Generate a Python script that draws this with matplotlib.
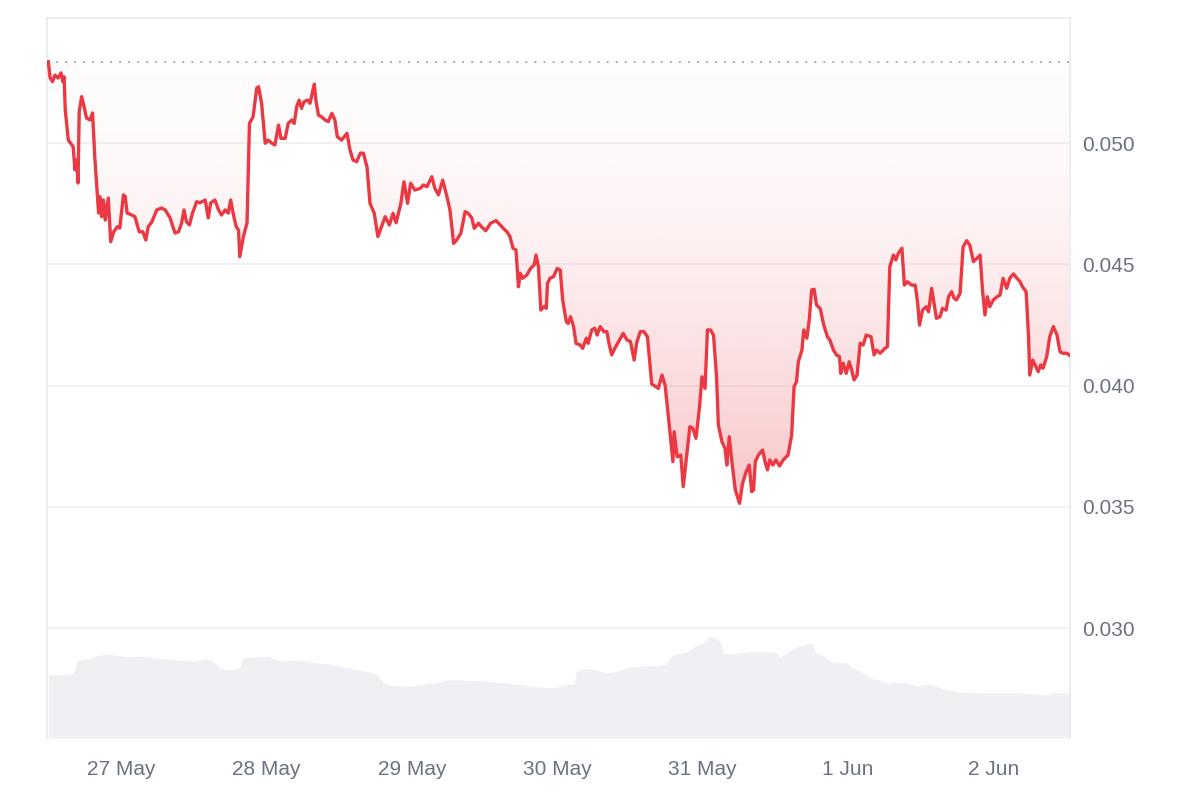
"""Seven-day price chart with volume backdrop, rebuilt from a screenshot."""

import datetime as dt

import matplotlib

matplotlib.use("Agg")

import matplotlib.dates as mdates
import matplotlib.pyplot as plt
import numpy as np
from matplotlib.colors import to_rgb
from matplotlib.ticker import FuncFormatter

plt.rcParams["font.family"] = ["Liberation Sans", "DejaVu Sans"]

START = dt.datetime(2024, 5, 26, 12, 0)

# hours after START, price in USD
PRICE_HOURS = [
    0.0, 0.3, 0.7, 1.1, 1.6, 2.1, 2.4, 2.6, 2.8, 3.3,
    3.9, 4.1, 4.4, 4.7, 4.9, 5.1, 5.5, 5.9, 6.3, 6.9,
    7.3, 7.7, 8.3, 8.5, 8.8, 9.1, 9.4, 9.9, 10.3, 10.8,
    11.4, 11.8, 12.4, 12.7, 13.0, 13.8, 14.3, 15.0, 15.6, 16.1,
    16.5, 17.1, 17.9, 18.7, 19.3, 20.1, 20.9, 21.5, 22.0, 22.4,
    22.8, 23.3, 23.8, 24.5, 25.0, 25.9, 26.4, 26.8, 27.5, 28.1,
    28.6, 29.2, 29.7, 30.1, 30.5, 31.0, 31.4, 31.6, 32.2, 32.8,
    33.2, 33.8, 34.4, 34.7, 35.2, 35.8, 36.3, 36.9, 37.4, 38.0,
    38.4, 39.1, 39.6, 40.2, 40.6, 41.0, 41.4, 41.8, 42.2, 42.8,
    43.2, 43.9, 44.2, 44.6, 45.1, 45.7, 46.2, 46.8, 47.3, 47.7,
    48.4, 49.3, 49.8, 50.3, 50.9, 51.5, 52.0, 52.6, 53.1, 53.8,
    54.4, 55.0, 55.6, 56.3, 56.9, 57.4, 58.2, 58.7, 59.3, 59.8,
    60.5, 61.4, 61.9, 62.5, 63.3, 63.8, 64.4, 65.1, 65.8, 66.3,
    66.9, 67.4, 68.1, 68.8, 69.3, 69.9, 70.3, 71.0, 71.5, 72.2,
    73.0, 73.9, 74.6, 75.1, 75.7, 76.2, 76.7, 77.2, 77.6, 77.9,
    78.3, 79.0, 79.6, 80.2, 80.5, 80.9, 81.3, 81.8, 82.2, 82.4,
    82.8, 83.4, 84.0, 84.5, 84.9, 85.5, 85.8, 86.2, 86.7, 87.1,
    87.8, 88.2, 88.8, 89.1, 89.7, 90.2, 90.6, 91.1, 91.7, 92.2,
    92.6, 93.0, 93.5, 94.3, 94.9, 95.5, 96.1, 96.7, 97.1, 97.7,
    98.3, 98.9, 99.6, 100.3, 100.7, 101.3, 101.8, 102.3, 103.1, 103.3,
    103.8, 104.4, 104.8, 105.4, 105.9, 106.4, 106.9, 107.5, 107.9, 108.4,
    108.8, 109.3, 109.8, 110.3, 110.6, 111.2, 111.7, 112.0, 112.4, 112.8,
    113.4, 114.1, 114.6, 115.2, 115.7, 116.1, 116.4, 116.7, 117.2, 117.9,
    118.3, 118.7, 119.1, 119.6, 120.1, 120.7, 121.3, 122.1, 122.7, 123.1,
    123.5, 123.8, 124.4, 124.7, 125.2, 125.6, 126.0, 126.4, 126.8, 127.4,
    128.0, 128.6, 129.0, 129.6, 130.1, 130.6, 130.8, 131.2, 131.7, 132.2,
    132.6, 133.0, 133.5, 134.0, 134.5, 135.0, 135.8, 136.3, 136.7, 137.3,
    138.1, 138.5, 138.9, 139.5, 139.9, 140.3, 140.9, 141.3, 141.8, 142.5,
    143.1, 143.5, 143.8, 144.3, 144.9, 145.3, 145.8, 146.2, 146.6, 147.2,
    147.6, 148.2, 148.6, 149.1, 149.5, 149.9, 150.5, 151.0, 151.6, 152.1,
    152.7, 153.3, 153.8, 154.2, 154.6, 155.0, 155.4, 156.0, 156.6, 157.1,
    157.6, 158.2, 158.7, 159.3, 159.9, 160.4, 160.8, 161.4, 161.8, 162.0,
    162.5, 163.0, 163.4, 163.8, 164.2, 164.8, 165.3, 165.9, 166.5, 167.0,
    167.5, 168.1, 168.5,
]

PRICES = [
    0.05335, 0.05268, 0.05253, 0.05280, 0.05268, 0.05289, 0.05253, 0.05273, 0.05136, 0.05012,
    0.04992, 0.04985, 0.04889, 0.04930, 0.04835, 0.05129, 0.05191, 0.05150, 0.05103, 0.05095,
    0.05124, 0.04930, 0.04711, 0.04779, 0.04696, 0.04765, 0.04682, 0.04773, 0.04593, 0.04634,
    0.04655, 0.04649, 0.04786, 0.04779, 0.04711, 0.04703, 0.04696, 0.04634, 0.04634, 0.04600,
    0.04655, 0.04675, 0.04724, 0.04732, 0.04724, 0.04691, 0.04629, 0.04634, 0.04670, 0.04724,
    0.04675, 0.04662, 0.04711, 0.04758, 0.04753, 0.04765, 0.04691, 0.04753, 0.04765, 0.04724,
    0.04703, 0.04724, 0.04711, 0.04765, 0.04711, 0.04655, 0.04641, 0.04531, 0.04614, 0.04670,
    0.05081, 0.05108, 0.05226, 0.05232, 0.05164, 0.04999, 0.05012, 0.04999, 0.04992, 0.05074,
    0.05019, 0.05019, 0.05081, 0.05095, 0.05081, 0.05150, 0.05177, 0.05143, 0.05170, 0.05177,
    0.05164, 0.05243, 0.05170, 0.05115, 0.05108, 0.05095, 0.05088, 0.05122, 0.05095, 0.05026,
    0.05012, 0.05040, 0.04971, 0.04930, 0.04923, 0.04958, 0.04958, 0.04902, 0.04751, 0.04710,
    0.04614, 0.04655, 0.04696, 0.04662, 0.04710, 0.04671, 0.04751, 0.04840, 0.04751, 0.04834,
    0.04806, 0.04813, 0.04827, 0.04820, 0.04861, 0.04813, 0.04786, 0.04847, 0.04779, 0.04724,
    0.04586, 0.04600, 0.04628, 0.04717, 0.04710, 0.04691, 0.04648, 0.04669, 0.04655, 0.04638,
    0.04669, 0.04680, 0.04662, 0.04648, 0.04634, 0.04614, 0.04566, 0.04559, 0.04407, 0.04463,
    0.04442, 0.04456, 0.04483, 0.04497, 0.04538, 0.04490, 0.04311, 0.04325, 0.04318, 0.04421,
    0.04442, 0.04449, 0.04483, 0.04476, 0.04353, 0.04263, 0.04256, 0.04284, 0.04243, 0.04174,
    0.04167, 0.04153, 0.04195, 0.04174, 0.04229, 0.04236, 0.04208, 0.04243, 0.04222, 0.04222,
    0.04167, 0.04126, 0.04153, 0.04188, 0.04215, 0.04188, 0.04181, 0.04105, 0.04174, 0.04222,
    0.04222, 0.04201, 0.04006, 0.03995, 0.03988, 0.04043, 0.04002, 0.03885, 0.03686, 0.03809,
    0.03706, 0.03713, 0.03583, 0.03720, 0.03830, 0.03823, 0.03782, 0.03913, 0.04036, 0.03988,
    0.04229, 0.04229, 0.04208, 0.04036, 0.03837, 0.03768, 0.03741, 0.03672, 0.03789, 0.03693,
    0.03569, 0.03514, 0.03597, 0.03645, 0.03672, 0.03562, 0.03569, 0.03686, 0.03713, 0.03734,
    0.03686, 0.03652, 0.03693, 0.03672, 0.03693, 0.03668, 0.03693, 0.03713, 0.03796, 0.03995,
    0.04016, 0.04098, 0.04146, 0.04229, 0.04195, 0.04270, 0.04394, 0.04397, 0.04332, 0.04318,
    0.04249, 0.04201, 0.04188, 0.04146, 0.04126, 0.04119, 0.04050, 0.04092, 0.04050, 0.04098,
    0.04064, 0.04023, 0.04043, 0.04174, 0.04167, 0.04208, 0.04201, 0.04126, 0.04146, 0.04133,
    0.04153, 0.04160, 0.04490, 0.04538, 0.04518, 0.04545, 0.04566, 0.04414, 0.04428, 0.04414,
    0.04414, 0.04339, 0.04249, 0.04311, 0.04325, 0.04304, 0.04401, 0.04339, 0.04277, 0.04284,
    0.04318, 0.04311, 0.04366, 0.04387, 0.04360, 0.04353, 0.04380, 0.04572, 0.04597, 0.04579,
    0.04511, 0.04525, 0.04538, 0.04394, 0.04291, 0.04366, 0.04325, 0.04353, 0.04366, 0.04373,
    0.04442, 0.04401, 0.04442, 0.04460, 0.04442, 0.04428, 0.04407, 0.04387, 0.04201, 0.04043,
    0.04105, 0.04078, 0.04057, 0.04085, 0.04071, 0.04119, 0.04201, 0.04243, 0.04208, 0.04139,
    0.04133, 0.04133, 0.04126,
]

# trading volume, relative units (only the shape matters, no axis shown)
VOLUME_HOURS = [
    0.0, 3.9, 4.2, 4.9, 6.9, 8.5, 9.9, 11.8, 13.5, 15.1,
    17.3, 19.6, 21.7, 23.9, 26.2, 27.2, 28.3, 29.5, 31.1, 31.6,
    32.1, 34.4, 36.3, 38.2, 40.4, 42.7, 44.4, 46.5, 48.6, 51.0,
    53.1, 54.3, 55.2, 56.1, 58.1, 60.2, 61.8, 64.7, 65.8, 68.0,
    71.8, 73.4, 75.7, 78.4, 81.2, 83.3, 86.1, 86.8, 87.1, 87.8,
    89.9, 92.2, 93.9, 96.0, 98.2, 100.5, 102.1, 103.0, 104.3, 105.6,
    107.1, 108.1, 109.1, 110.0, 110.9, 111.4, 112.5, 114.2, 116.3, 118.6,
    120.3, 120.8, 121.9, 123.6, 125.2, 126.1, 126.6, 127.9, 129.5, 131.8,
    132.7, 134.0, 135.1, 136.0, 137.3, 138.6, 139.4, 141.7, 143.4, 145.5,
    147.7, 150.5, 153.8, 157.6, 160.4, 162.5, 164.9, 165.8, 168.6,
]

VOLUMES = [
    6.3, 6.4, 6.6, 7.8, 8.0, 8.3, 8.4, 8.2, 8.1, 8.2,
    8.0, 7.9, 7.8, 7.7, 7.9, 7.7, 7.0, 6.8, 6.9, 7.1,
    8.0, 8.1, 8.2, 7.7, 7.8, 7.7, 7.5, 7.4, 7.1, 6.8,
    6.6, 6.3, 5.6, 5.3, 5.2, 5.2, 5.4, 5.6, 5.8, 5.8,
    5.7, 5.6, 5.5, 5.3, 5.1, 5.0, 5.4, 5.4, 6.6, 6.9,
    6.9, 6.5, 6.7, 7.1, 7.2, 7.2, 7.4, 8.3, 8.5, 8.7,
    9.3, 9.5, 10.2, 10.0, 9.7, 8.5, 8.4, 8.5, 8.7, 8.6,
    8.5, 8.1, 8.5, 9.1, 9.4, 9.5, 8.5, 8.2, 7.6, 7.5,
    7.0, 6.7, 6.3, 5.9, 5.8, 5.4, 5.6, 5.5, 5.2, 5.4,
    4.9, 4.6, 4.5, 4.5, 4.5, 4.4, 4.3, 4.5, 4.5,
]

Y_TICKS = [0.030, 0.035, 0.040, 0.045, 0.050]

RED = "#ea3943"
GRID = "#eceef1"
FRAME = "#e6e8eb"
TEXT = "#6b7280"
VOLUME_FILL = "#eef0f4"


def _to_dates(hours):
    return [START + dt.timedelta(hours=h) for h in hours]


def _day_label(x, _pos):
    d = mdates.num2date(x)
    return f"{d.day} {d.strftime('%b')}"


def main():
    times = _to_dates(PRICE_HOURS)
    vol_times = _to_dates(VOLUME_HOURS)
    ref_price = PRICES[0]

    fig = plt.figure(figsize=(12, 8), dpi=100)
    ax = fig.add_axes([0.0392, 0.0775, 0.8525, 0.9])
    vax = ax.twinx()

    # volume sits behind the price axis
    ax.set_zorder(vax.get_zorder() + 1)
    ax.patch.set_visible(False)
    vax.fill_between(vol_times, VOLUMES, 0, color=VOLUME_FILL, lw=0)
    vax.set_ylim(0, 72)
    vax.set_yticks([])
    for side in vax.spines:
        vax.spines[side].set_visible(False)

    x_left = mdates.date2num(START + dt.timedelta(hours=-0.21))
    x_right = mdates.date2num(START + dt.timedelta(hours=168.65))

    for tick in Y_TICKS:
        ax.axhline(tick, color=GRID, lw=1.1, zorder=0)

    # gradient under the reference line, clipped to the area between line and price
    area = ax.fill_between(times, PRICES, ref_price, color="none", lw=0)
    ramp = np.linspace(0, 1, 256)[:, None]
    rgba = np.zeros((256, 1, 4))
    rgba[..., :3] = to_rgb(RED)
    rgba[..., 3] = 0.015 + 0.28 * ramp ** 1.7
    img = ax.imshow(
        rgba,
        extent=[x_left, x_right, min(PRICES), ref_price],
        origin="upper",
        aspect="auto",
        zorder=1,
    )
    img.set_clip_path(area.get_paths()[0], transform=ax.transData)

    ax.axhline(ref_price, color="#9aa1ab", lw=1.3, linestyle=(0, (1, 4)), zorder=2)
    ax.plot(times, PRICES, color=RED, lw=2.4, solid_joinstyle="round", zorder=3)

    ax.set_xlim(x_left, x_right)
    vax.set_xlim(x_left, x_right)
    ax.set_ylim(0.025464, 0.055155)

    ax.yaxis.tick_right()
    ax.set_yticks(Y_TICKS)
    ax.set_yticklabels([f"{t:.3f}" for t in Y_TICKS])
    ax.xaxis.set_major_locator(mdates.DayLocator())
    ax.xaxis.set_major_formatter(FuncFormatter(_day_label))
    ax.tick_params(axis="y", length=0, pad=8.5, labelsize=15, labelcolor=TEXT)
    ax.tick_params(axis="x", length=0, pad=16, labelsize=15, labelcolor=TEXT)

    for side in ("left", "top", "right"):
        ax.spines[side].set_color(FRAME)
        ax.spines[side].set_linewidth(1.1)
    ax.spines["bottom"].set_visible(False)

    fig.savefig("out.png", dpi=100, facecolor="white")
    plt.close(fig)


if __name__ == "__main__":
    main()
